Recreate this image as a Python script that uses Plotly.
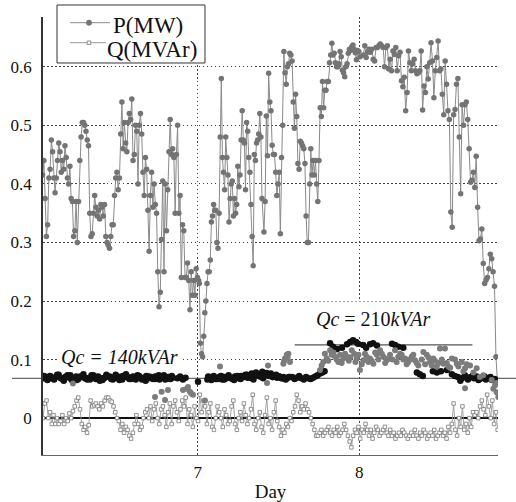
import numpy as np
import plotly.graph_objects as go

# ---------------- data ----------------
# P(MW) measured, in four consecutive sample blocks (start day, end day, values)
p_seg_a = (6.041, 7.006, [
    0.415, 0.44, 0.375, 0.31, 0.33, 0.41, 0.425, 0.475, 0.455, 0.41, 0.385, 0.41, 0.44, 0.47, 0.455,
    0.42, 0.44, 0.425, 0.465, 0.445, 0.41, 0.40, 0.43, 0.375, 0.37, 0.31, 0.32, 0.37, 0.30, 0.37,
    0.44, 0.48, 0.505, 0.505, 0.50, 0.49, 0.475, 0.465, 0.35, 0.31, 0.315, 0.35, 0.38, 0.36, 0.345,
    0.355, 0.34, 0.365, 0.36, 0.345, 0.365, 0.31, 0.30, 0.295, 0.29, 0.31, 0.33, 0.33, 0.38, 0.41,
    0.42, 0.39, 0.41, 0.485, 0.54, 0.46, 0.505, 0.47, 0.455, 0.505, 0.52, 0.51, 0.545, 0.44, 0.45,
    0.50, 0.49, 0.40, 0.50, 0.52, 0.485, 0.42, 0.38, 0.445, 0.425, 0.355, 0.285, 0.38, 0.42, 0.36,
    0.40, 0.365, 0.35, 0.25, 0.19, 0.215, 0.305, 0.405, 0.25, 0.40, 0.32, 0.39, 0.455, 0.51, 0.45,
    0.46, 0.445, 0.35, 0.45, 0.50, 0.35, 0.38, 0.24, 0.33, 0.32, 0.24, 0.24, 0.265, 0.235, 0.185,
    0.25, 0.21, 0.235, 0.21, 0.255, 0.24, 0.235])
p_seg_b = (7.010, 7.398, [
    0.23, 0.128, 0.11, 0.105, 0.14, 0.18, 0.20, 0.23, 0.25, 0.25, 0.27, 0.335, 0.345, 0.365, 0.355,
    0.355, 0.30, 0.29, 0.35, 0.48, 0.58, 0.445, 0.42, 0.39, 0.48, 0.445, 0.415, 0.335, 0.375, 0.40,
    0.405, 0.345, 0.375, 0.35, 0.365, 0.43, 0.395, 0.415, 0.475, 0.525, 0.475, 0.47, 0.39, 0.505,
    0.49, 0.445, 0.42, 0.365, 0.31, 0.26, 0.45, 0.44, 0.47, 0.475, 0.485, 0.52, 0.48, 0.375])
p_seg_c = (7.410, 8.004, [
    0.318, 0.37, 0.516, 0.448, 0.589, 0.54, 0.525, 0.466, 0.45, 0.45, 0.42, 0.38, 0.40, 0.42, 0.315,
    0.445, 0.50, 0.626, 0.59, 0.57, 0.60, 0.605, 0.623, 0.62, 0.61, 0.54, 0.495, 0.553, 0.515, 0.435,
    0.425, 0.473, 0.47, 0.465, 0.46, 0.435, 0.345, 0.30, 0.30, 0.40, 0.46, 0.415, 0.44, 0.415, 0.44,
    0.40, 0.37, 0.44, 0.53, 0.515, 0.575, 0.53, 0.56, 0.56, 0.575, 0.575, 0.607, 0.62, 0.64, 0.62,
    0.623, 0.607, 0.60, 0.60, 0.605, 0.626, 0.617, 0.594, 0.59, 0.583, 0.60, 0.605, 0.623, 0.63,
    0.628, 0.634, 0.637, 0.63, 0.624, 0.612, 0.628, 0.626, 0.617])
p_seg_d = (8.025, 8.854, [
    0.62, 0.636, 0.616, 0.625, 0.63, 0.625, 0.63, 0.613, 0.61, 0.633, 0.633, 0.636, 0.639, 0.636,
    0.633, 0.60, 0.633, 0.636, 0.596, 0.613, 0.593, 0.627, 0.621, 0.633, 0.593, 0.619, 0.625, 0.576,
    0.566, 0.582, 0.525, 0.556, 0.627, 0.607, 0.593, 0.605, 0.613, 0.593, 0.588, 0.59, 0.593, 0.627,
    0.526, 0.567, 0.556, 0.60, 0.579, 0.607, 0.641, 0.61, 0.547, 0.593, 0.616, 0.644, 0.593, 0.596,
    0.553, 0.518, 0.61, 0.57, 0.525, 0.51, 0.352, 0.326, 0.518, 0.527, 0.57, 0.58, 0.48, 0.383,
    0.535, 0.50, 0.535, 0.54, 0.51, 0.46, 0.403, 0.406, 0.42, 0.394, 0.447, 0.36, 0.303, 0.306,
    0.323, 0.264, 0.23, 0.236, 0.24, 0.255, 0.28, 0.272, 0.25, 0.225, 0.105, 0.065])

# Q(MVAr) measured, regular sampling from q_start to q_end
q_start, q_end = 6.043, 8.856
q_vals = [
    0.0, 0.025, 0.03, 0.0, 0.01, -0.01, 0.005, -0.01, 0.0, -0.01, -0.005, 0.005, -0.01, 0.0, -0.005,
    0.008, 0.0, 0.012, 0.02, 0.03, 0.035,
    0.015, -0.01, -0.02, -0.015, -0.025, -0.012,
    0.03, 0.02, 0.022, 0.025, 0.02, 0.015, 0.025, 0.02, 0.03, 0.035, 0.035, 0.03, 0.028, 0.02, 0.01,
    0.0, -0.005,
    -0.02, -0.01, -0.025, -0.015, -0.02, -0.03, -0.035, -0.025, -0.01, 0.005, -0.01, -0.02, -0.015, 0.0,
    0.01, 0.015, 0.0, 0.02, -0.005, 0.015, 0.025, 0.0, -0.01, 0.015, 0.02, 0.005, -0.015, 0.01, 0.025,
    -0.01, 0.02, 0.03, 0.01, -0.005, 0.015, 0.03, 0.02, 0.035, -0.01, 0.015, 0.005, -0.015, 0.02, 0.0,
    -0.005,
    0.04, 0.01, 0.03, 0.02, -0.01, 0.01, 0.025, -0.015, -0.02, 0.0, 0.02, 0.01, 0.0, -0.015, 0.015,
    0.005, -0.01, -0.005, 0.02, 0.03, -0.01, -0.02, 0.0, 0.01, -0.005, 0.025, 0.005, -0.01, 0.0,
    0.015, 0.04, -0.01, -0.02, 0.0, 0.01, -0.015, -0.025, 0.005, 0.035, -0.01, 0.0, -0.02, 0.01, 0.03,
    -0.005, -0.015, -0.03, -0.02, -0.025, -0.01, -0.015, 0.0, -0.005, 0.01, 0.02, 0.04, 0.03, 0.01,
    0.02, 0.015, 0.025, 0.015, 0.01, 0.0, -0.01, -0.02, -0.03,
    -0.03, -0.025, -0.02, -0.03, -0.025, -0.02, -0.015, -0.025, -0.03, -0.02, -0.025, -0.015, -0.03,
    -0.025, -0.02, -0.01, -0.02, -0.03, -0.04, -0.05, -0.03, -0.02, -0.025, -0.015, -0.035, -0.02,
    -0.025, -0.01, -0.02, -0.03, -0.02, -0.035, -0.025, -0.015, -0.02, -0.03, -0.025, -0.02, -0.015,
    -0.025, -0.03, -0.02, -0.03, -0.025, -0.035, -0.03, -0.025, -0.03, -0.02, -0.025, -0.03, -0.035,
    -0.03, -0.025, -0.03, -0.02, -0.03, -0.035, -0.025, -0.03, -0.02, -0.025, -0.035, -0.03, -0.025,
    -0.03, -0.02, -0.035, -0.03, -0.025, -0.02, -0.03, -0.025, -0.035, -0.015, -0.025,
    -0.01, 0.025, -0.02, -0.03, 0.0, -0.015, 0.02, -0.02, -0.01, -0.025, 0.0, -0.015, 0.01, 0.005,
    0.01, 0.0, 0.02, 0.03, 0.015, 0.005, 0.04, 0.02, 0.0, 0.03, -0.01, 0.01, -0.02]

# compensated samples (black dots): regular blocks
k_seg_1 = (6.045, 6.845, [
    0.068, 0.07, 0.066, 0.072, 0.069, 0.067, 0.071, 0.074, 0.068, 0.066, 0.07, 0.073, 0.069, 0.065,
    0.068, 0.071, 0.067, 0.07, 0.072, 0.068, 0.066, 0.069, 0.073, 0.07, 0.067, 0.071, 0.068, 0.065,
    0.069, 0.072, 0.07, 0.067, 0.069, 0.074, 0.071, 0.068, 0.066, 0.07, 0.072, 0.069, 0.067, 0.071,
    0.068, 0.073, 0.07, 0.066, 0.069, 0.072, 0.068, 0.07, 0.067, 0.071, 0.069, 0.066, 0.07, 0.073,
    0.068, 0.07, 0.067, 0.069])
k_seg_1b = (6.050, 6.840, [
    0.072, 0.065, 0.071, 0.066, 0.074, 0.069, 0.064, 0.07, 0.073, 0.067, 0.065, 0.071, 0.075, 0.068,
    0.066, 0.073, 0.07, 0.064, 0.068, 0.074, 0.071, 0.066, 0.069, 0.065, 0.072, 0.075, 0.067, 0.07,
    0.066, 0.072, 0.068, 0.064, 0.071, 0.069, 0.067, 0.073, 0.07, 0.066, 0.068, 0.072])
k_seg_2 = (6.875, 6.925, [0.068, 0.071, 0.066, 0.069])
k_seg_3 = (7.060, 7.570, [
    0.066, 0.07, 0.068, 0.072, 0.067, 0.069, 0.071, 0.066, 0.07, 0.068, 0.073, 0.069, 0.067, 0.071,
    0.07, 0.068, 0.072, 0.07, 0.074, 0.069, 0.071, 0.076, 0.073, 0.078, 0.075, 0.072, 0.079, 0.074,
    0.077, 0.073, 0.076, 0.07, 0.072, 0.069, 0.071, 0.068, 0.07, 0.067, 0.069, 0.07])
k_seg_3b = (7.065, 7.565, [
    0.071, 0.065, 0.069, 0.067, 0.072, 0.066, 0.07, 0.068, 0.065, 0.072, 0.067, 0.07, 0.074, 0.069,
    0.066, 0.073, 0.071, 0.068, 0.075, 0.072, 0.07, 0.074, 0.071, 0.068, 0.066, 0.07])
k_seg_4 = (7.585, 7.785, [
    0.07, 0.067, 0.069, 0.072, 0.068, 0.066, 0.07, 0.068, 0.067, 0.069, 0.071, 0.073, 0.076, 0.078, 0.08])
k_day = [7.002, 7.819, 7.837, 7.862, 7.893, 7.924, 7.943, 7.961, 7.980, 7.992, 8.023, 8.042, 8.066,
         8.085, 8.109, 8.202, 8.221, 8.241, 8.272, 8.356, 8.374, 8.393, 8.455, 8.480, 8.505, 8.542,
         8.573, 8.591, 8.610, 8.635, 8.653, 8.672, 8.690, 8.709, 8.727, 8.746, 8.764, 8.783, 8.802,
         8.820, 8.839, 8.625, 8.662, 8.700, 8.737, 8.775, 8.811]
k_val = [0.062, 0.128, 0.122, 0.118, 0.12, 0.126, 0.13, 0.133, 0.13, 0.127, 0.125, 0.12, 0.126,
         0.128, 0.124, 0.127, 0.125, 0.122, 0.12, 0.078, 0.075, 0.072, 0.08, 0.078, 0.08, 0.082,
         0.075, 0.072, 0.07, 0.068, 0.073, 0.066, 0.07, 0.068, 0.071, 0.067, 0.069, 0.066, 0.068,
         0.065, 0.067, 0.064, 0.07, 0.072, 0.065, 0.071, 0.07]

# uncompensated samples (grey dots)
g_day = [6.228, 6.736, 6.777, 6.798, 6.816, 6.909, 6.932, 6.952, 6.971, 6.94, 6.96, 7.045, 7.138,
         7.429, 7.435, 7.530, 7.540, 7.551, 7.561, 7.571, 7.757, 7.777, 7.798, 7.819, 7.829, 7.850,
         7.870, 7.881, 7.901, 7.922, 7.935, 7.953, 7.968, 7.984, 8.004, 8.015, 8.025, 8.046, 8.056,
         8.066, 8.087, 8.098, 8.108, 8.128, 8.149, 8.160, 8.170, 8.190, 8.205, 8.221, 8.241, 8.262,
         8.283, 8.303, 8.324, 8.344, 8.365, 8.396, 8.417, 8.437, 8.458, 8.479, 8.499, 8.520, 8.530,
         8.551, 8.572, 8.603, 8.634, 8.654, 8.654, 8.685, 8.726, 8.767, 8.819, 8.829, 8.840, 8.850,
         8.850, 8.860,
         7.535, 7.556, 7.767, 7.787, 7.808, 7.840, 7.860, 7.891, 7.912, 7.944, 7.976, 7.995, 8.035,
         8.077, 8.118, 8.139, 8.180, 8.231, 8.252, 8.272, 8.293, 8.314, 8.334, 8.355, 8.386, 8.407,
         8.427, 8.448, 8.468, 8.489, 8.510, 8.541, 8.562, 8.592, 8.613, 8.644, 8.665, 8.706, 8.746]
g_val = [0.059, 0.036, 0.045, 0.031, 0.048, 0.048, 0.05, 0.045, 0.04, 0.053, 0.042, 0.03, 0.088,
         0.06, 0.09, 0.093, 0.102, 0.108, 0.11, 0.096, 0.082, 0.096, 0.102, 0.116, 0.108, 0.105,
         0.096, 0.108, 0.102, 0.105, 0.098, 0.116, 0.11, 0.102, 0.082, 0.092, 0.099, 0.105, 0.096,
         0.102, 0.093, 0.112, 0.108, 0.116, 0.105, 0.094, 0.099, 0.108, 0.1, 0.116, 0.105, 0.108,
         0.102, 0.096, 0.105, 0.099, 0.09, 0.113, 0.108, 0.096, 0.102, 0.088, 0.119, 0.093, 0.119,
         0.088, 0.102, 0.093, 0.096, 0.085, 0.051, 0.09, 0.085, 0.073, 0.065, 0.05, 0.056, 0.06,
         0.044, 0.036,
         0.098, 0.104, 0.09, 0.11, 0.098, 0.112, 0.1, 0.094, 0.11, 0.104, 0.096, 0.108, 0.11, 0.098,
         0.1, 0.11, 0.102, 0.096, 0.11, 0.1, 0.092, 0.1, 0.108, 0.094, 0.1, 0.092, 0.104, 0.09, 0.098,
         0.094, 0.1, 0.094, 0.086, 0.1, 0.088, 0.08, 0.092, 0.078, 0.07]

qc_level = 0.068
qc_high = 0.125
x_ticks = [7, 8]
y_ticks = [0, 0.1, 0.2, 0.3, 0.4, 0.5, 0.6]
y_ticktext = ["0", "0.1", "0.2", "0.3", "0.4", "0.5", "0.6"]
legend_names = ["P(MW)", "Q(MVAr)"]


def expand(segs):
    xs, ys = [], []
    for a, b, vals in segs:
        xs.extend(np.linspace(a, b, len(vals)).tolist())
        ys.extend(vals)
    return xs, ys


p_x, p_y = expand([p_seg_a, p_seg_b, p_seg_c, p_seg_d])
q_x = np.linspace(q_start, q_end, len(q_vals)).tolist()
k_x, k_y = expand([k_seg_1, k_seg_1b, k_seg_2, k_seg_3, k_seg_3b, k_seg_4])
k_x += k_day
k_y += k_val

SERIF = "Liberation Serif"
P_LINE, P_MARK = "#8a8a8a", "#747474"
Q_LINE, Q_EDGE = "#9a9a9a", "#777777"

fig = go.Figure()
fig.add_trace(go.Scatter(
    x=p_x, y=p_y, mode="lines+markers", name=legend_names[0],
    line=dict(color=P_LINE, width=1),
    marker=dict(color=P_MARK, size=5.5, symbol="circle")))
fig.add_trace(go.Scatter(
    x=q_x, y=q_vals, mode="lines+markers", name=legend_names[1],
    line=dict(color=Q_LINE, width=0.9),
    marker=dict(color="white", size=3.5, symbol="square",
                line=dict(color=Q_EDGE, width=0.8))))
fig.add_trace(go.Scatter(
    x=k_x, y=k_y, mode="markers",
    marker=dict(color="#111111", size=6.5)))
fig.add_trace(go.Scatter(
    x=g_day, y=g_val, mode="markers",
    marker=dict(color="#7c7c7c", size=6)))

fig.add_shape(type="line", xref="paper", yref="y", x0=-0.068, x1=1.04,
              y0=qc_level, y1=qc_level, line=dict(color="#444444", width=1), layer="below")
fig.add_shape(type="line", xref="x", yref="y", x0=7.6, x1=8.70,
              y0=qc_high, y1=qc_high, line=dict(color="#555555", width=1.2), layer="below")

fig.add_annotation(x=6.516, y=0.104, xref="x", yref="y", showarrow=False,
                   text="<i>Qc = 140kVAr</i>", font=dict(family=SERIF, size=20, color="#111"),
                   bgcolor="white", borderpad=2)
fig.add_annotation(x=8.082, y=0.169, xref="x", yref="y", showarrow=False,
                   text="<i>Qc</i> = 210<i>kVAr</i>", font=dict(family=SERIF, size=20, color="#111"),
                   bgcolor="white", borderpad=6)

# ---- hand-built legend box (paper coordinates) ----
fig.add_shape(type="rect", xref="paper", yref="paper", x0=0.0308, x1=0.356, y0=0.895, y1=1.0274,
              fillcolor="white", line=dict(color="#333333", width=1))
# P entry
fig.add_shape(type="line", xref="paper", yref="paper", x0=0.0593, x1=0.1473, y0=0.987, y1=0.987,
              line=dict(color=P_LINE, width=1))
fig.add_shape(type="circle", xref="paper", yref="paper", x0=0.0951, x1=0.1071,
              y0=0.987 - 0.0063, y1=0.987 + 0.0063,
              fillcolor=P_MARK, line=dict(color=P_MARK, width=0.5))
# Q entry
fig.add_shape(type="line", xref="paper", yref="paper", x0=0.0593, x1=0.1385, y0=0.9413, y1=0.9413,
              line=dict(color=Q_LINE, width=1))
fig.add_shape(type="rect", xref="paper", yref="paper", x0=0.0972, x1=0.1050,
              y0=0.9413 - 0.004, y1=0.9413 + 0.004,
              fillcolor="white", line=dict(color=Q_EDGE, width=0.8))
fig.add_annotation(x=0.152, y=0.980, xref="paper", yref="paper", xanchor="left", yanchor="middle",
                   showarrow=False, text=legend_names[0],
                   font=dict(family=SERIF, size=23, color="#111"), borderpad=0)
fig.add_annotation(x=0.1375, y=0.926, xref="paper", yref="paper", xanchor="left", yanchor="middle",
                   showarrow=False, text=legend_names[1],
                   font=dict(family=SERIF, size=23, color="#111"), borderpad=0)

fig.update_layout(
    width=516, height=502,
    showlegend=False,
    margin=dict(l=43, r=18, t=17, b=47, autoexpand=False),
    paper_bgcolor="white", plot_bgcolor="white",
    font=dict(family=SERIF, size=16, color="#111"),
    xaxis=dict(range=[6.043, 8.858], tickvals=x_ticks, ticktext=[str(t) for t in x_ticks],
               showgrid=True, gridcolor="#444444", griddash="1.5px,2.5px", gridwidth=1,
               zeroline=False, showline=True, linecolor="#666666", linewidth=1,
               ticks="", tickfont=dict(family=SERIF, size=17), ticklabelstandoff=2,
               automargin=False,
               title=dict(text="Day", font=dict(family=SERIF, size=19), standoff=3)),
    yaxis=dict(range=[-0.063, 0.685], tickvals=y_ticks, ticktext=y_ticktext,
               showgrid=True, gridcolor="#444444", griddash="1.5px,2.5px", gridwidth=1,
               zeroline=True, zerolinecolor="#111111", zerolinewidth=1.5,
               showline=True, linecolor="#333333", linewidth=1.5, automargin=False,
               ticks="", tickfont=dict(family=SERIF, size=17), ticklabelstandoff=6),
)

fig.write_html("out.html")
